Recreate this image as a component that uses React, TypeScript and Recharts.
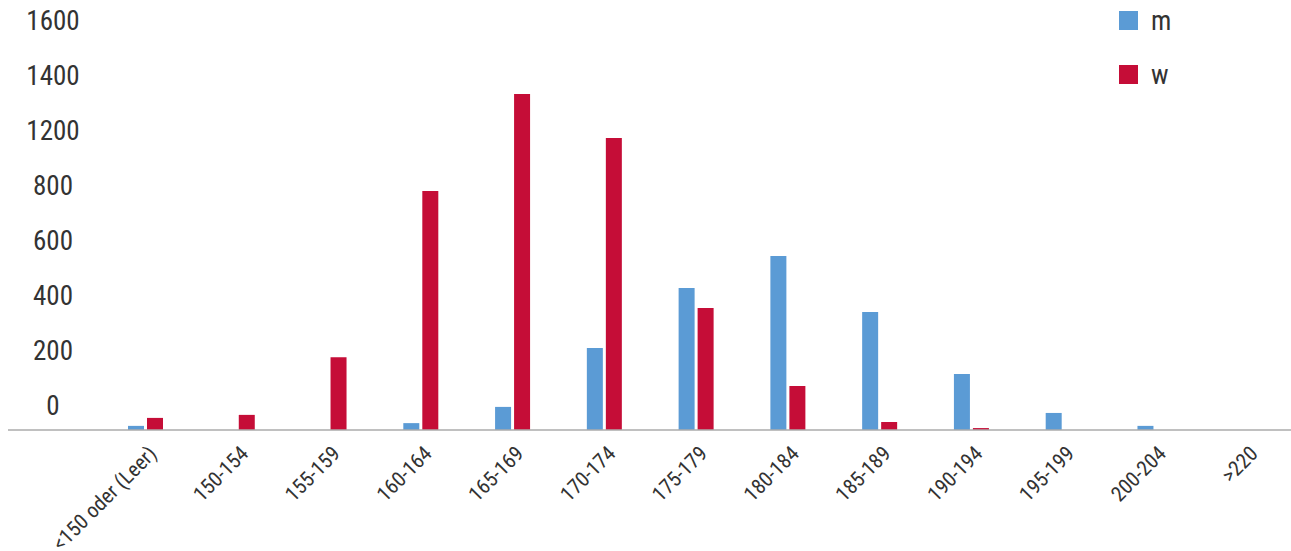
import React from "react";
import { BarChart, Bar, XAxis, YAxis, Legend } from "recharts";

const CATEGORIES = [
  "<150 oder (Leer)",
  "150-154",
  "155-159",
  "160-164",
  "165-169",
  "170-174",
  "175-179",
  "180-184",
  "185-189",
  "190-194",
  "195-199",
  "200-204",
  ">220",
];
const M_VALUES = [15, 0, 0, 25, 84, 298, 516, 633, 429, 204, 62, 15, 0];
const W_VALUES = [44, 55, 265, 869, 1222, 1062, 444, 160, 29, 7, 0, 0, 0];
const Y_TICK_VALUES = [0, 200, 400, 600, 800, 1000, 1200, 1400];
const Y_TICK_LABELS = ["0", "200", "400", "600", "800", "1200", "1400", "1600"];
const SERIES_NAMES = ["m", "w"];

const BLUE = "#5B9BD5";
const RED = "#C50D37";
const TEXT = "#333333";
const FONT = '"Liberation Sans Narrow", "Arial Narrow", "Roboto Condensed", "Liberation Sans", sans-serif';

if (typeof document !== "undefined") {
  document.body.style.margin = "0";
  document.body.style.overflow = "hidden";
}

const data = CATEGORIES.map((cat, i) => ({ cat, m: M_VALUES[i], w: W_VALUES[i] }));

const XTick = (props: any) => {
  const { x, y, payload } = props;
  return (
    <g transform={`translate(${x + 12},${y + 25})`}>
      <text textAnchor="end" transform="rotate(-45)" fontSize={21} fill={TEXT} fontFamily={FONT}>
        {payload.value}
      </text>
    </g>
  );
};

const YTick = (props: any) => {
  const { y, payload } = props;
  const idx = Y_TICK_VALUES.indexOf(payload.value);
  return (
    <text x={53} y={y - 25} dy="0.36em" textAnchor="middle" fontSize={27} fill={TEXT} fontFamily={FONT}>
      {Y_TICK_LABELS[idx]}
    </text>
  );
};

const renderLegend = () => {
  const colors = [BLUE, RED];
  return (
    <div style={{ fontFamily: FONT }}>
      {SERIES_NAMES.map((name, i) => (
        <div key={name} style={{ display: "flex", alignItems: "center", height: 19, marginBottom: 35 }}>
          <div style={{ width: 19, height: 19, background: colors[i], marginRight: 13 }} />
          <span style={{ fontSize: 27, color: TEXT, lineHeight: "24px" }}>{name}</span>
        </div>
      ))}
    </div>
  );
};

export default function App() {
  return (
    <div style={{ position: "relative", width: 1291, height: 551, overflow: "hidden" }}>
      <BarChart
        width={1310}
        height={551}
        data={data}
        margin={{ top: 45, right: 0, left: 7, bottom: 0 }}
        barSize={16}
        barGap={3}
      >
        <XAxis
          dataKey="cat"
          interval={0}
          height={121}
          padding={{ left: 92, right: 17 }}
          axisLine={{ stroke: "#ABABAB", strokeWidth: 1.5 }}
          tickLine={false}
          tickSize={0}
          tickMargin={0}
          tick={<XTick />}
        />
        <YAxis
          width={1}
          domain={[0, 1400]}
          ticks={Y_TICK_VALUES}
          axisLine={false}
          tickLine={false}
          tick={<YTick />}
          interval={0}
        />
        <Legend
          layout="horizontal"
          verticalAlign="middle"
          align="center"
          content={renderLegend}
          wrapperStyle={{ position: "absolute", left: 1119, top: 11, width: 120 }}
        />
        <Bar dataKey="m" name="m" fill={BLUE} isAnimationActive={false} />
        <Bar dataKey="w" name="w" fill={RED} isAnimationActive={false} />
      </BarChart>
    </div>
  );
}
